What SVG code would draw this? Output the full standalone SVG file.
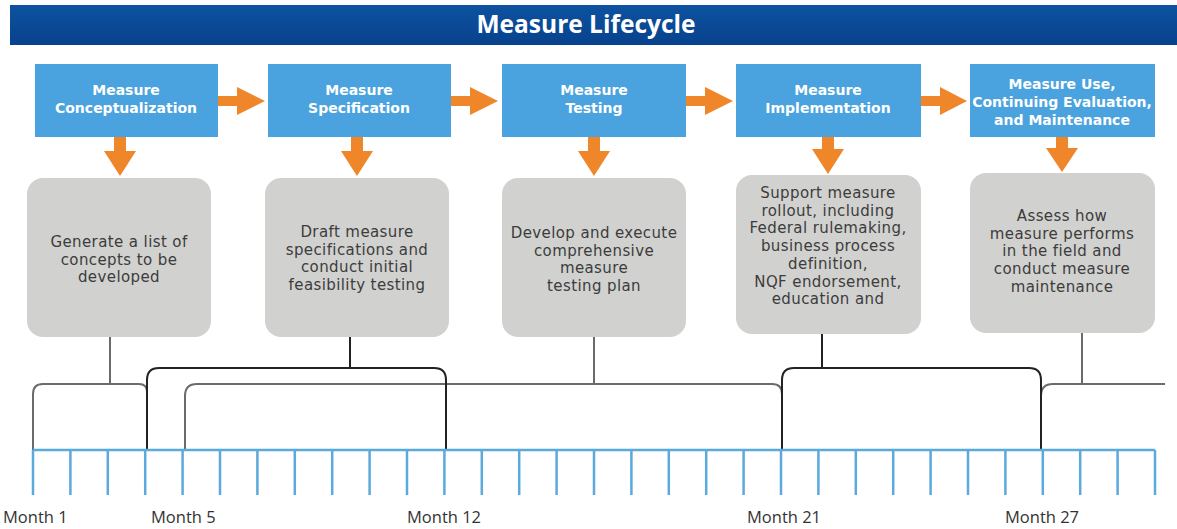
<svg xmlns="http://www.w3.org/2000/svg" width="1177" height="529" viewBox="0 0 1177 529">
<defs>
<linearGradient id="tg" x1="0" y1="0" x2="0" y2="1">
<stop offset="0" stop-color="#0d52a0"/>
<stop offset="1" stop-color="#08428c"/>
</linearGradient>
</defs>
<style>
.blue{fill:#4aa3de}
.grey{fill:#d1d1cf}
.bt{font-family:"DejaVu Sans",sans-serif;font-weight:bold;font-size:14px;fill:#ffffff;text-anchor:middle}
.gt{font-family:"DejaVu Sans",sans-serif;font-size:15px;letter-spacing:0.4px;fill:#3c3c3c;text-anchor:middle}
.mt{font-family:"Open Sans",Lato,sans-serif;font-size:16.5px;fill:#333333}
.arr{fill:#f0862a}
.gl{fill:none;stroke:#6b6b6b;stroke-width:2}
.bl{fill:none;stroke:#222222;stroke-width:2}
.tl{fill:none;stroke:#5aaadc;stroke-width:2.5}
</style>
<rect width="1177" height="529" fill="#ffffff"/>
<g id="title">
<rect x="10" y="5" width="1167" height="40" fill="url(#tg)"/>
<text x="586" y="33" style="font-family:'Open Sans',Lato,sans-serif;font-weight:bold;font-size:24.5px;fill:#ffffff;text-anchor:middle">Measure Lifecycle</text>
</g>
<g id="arrows">
<path class="arr" d="M218,96 H237 V87 L265,101 L237,115 V106 H218 Z"/>
<path class="arr" d="M451,96 H470 V87 L498,101 L470,115 V106 H451 Z"/>
<path class="arr" d="M686,96 H705 V87 L733,101 L705,115 V106 H686 Z"/>
<path class="arr" d="M921,96 H940 V87 L967,101 L940,115 V106 H921 Z"/>
<path class="arr" d="M114,137 V151 H104 L120,176 L136,151 H126 V137 Z"/>
<path class="arr" d="M351,137 V151 H341 L357,176 L373,151 H363 V137 Z"/>
<path class="arr" d="M588,137 V151 H578 L594,176 L610,151 H600 V137 Z"/>
<path class="arr" d="M822,137 V149 H812 L828,174 L844,149 H834 V137 Z"/>
<path class="arr" d="M1056,137 V148 H1046 L1062,172 L1078,148 H1068 V137 Z"/>
</g>
<g id="n1">
<rect class="blue" x="35" y="64" width="183" height="73"/>
<text class="bt" x="126" y="95">Measure</text>
<text class="bt" x="126" y="113">Conceptualization</text>
<rect class="grey" x="27" y="178" width="184" height="159" rx="16"/>
<text class="gt" x="119" y="247">Generate a list of</text>
<text class="gt" x="119" y="264.7">concepts to be</text>
<text class="gt" x="119" y="282.4">developed</text>
</g>
<g id="n2">
<rect class="blue" x="268" y="64" width="183" height="73"/>
<text class="bt" x="359" y="95">Measure</text>
<text class="bt" x="359" y="113">Specification</text>
<rect class="grey" x="265" y="178" width="184" height="159" rx="16"/>
<text class="gt" x="357" y="237">Draft measure</text>
<text class="gt" x="357" y="254.7">specifications and</text>
<text class="gt" x="357" y="272.4">conduct initial</text>
<text class="gt" x="357" y="290.1">feasibility testing</text>
</g>
<g id="n3">
<rect class="blue" x="502" y="64" width="184" height="73"/>
<text class="bt" x="594" y="95">Measure</text>
<text class="bt" x="594" y="113">Testing</text>
<rect class="grey" x="502" y="178" width="184" height="159" rx="16"/>
<text class="gt" x="594" y="238">Develop and execute</text>
<text class="gt" x="594" y="255.7">comprehensive</text>
<text class="gt" x="594" y="273.4">measure</text>
<text class="gt" x="594" y="291.1">testing plan</text>
</g>
<g id="n4">
<rect class="blue" x="736" y="64" width="185" height="73"/>
<text class="bt" x="828" y="95">Measure</text>
<text class="bt" x="828" y="113">Implementation</text>
<rect class="grey" x="736" y="175" width="185" height="159" rx="16"/>
<text class="gt" x="828" y="198">Support measure</text>
<text class="gt" x="828" y="215.7">rollout, including</text>
<text class="gt" x="828" y="233.4">Federal rulemaking,</text>
<text class="gt" x="828" y="251.1">business process</text>
<text class="gt" x="828" y="268.8">definition,</text>
<text class="gt" x="828" y="286.5">NQF endorsement,</text>
<text class="gt" x="828" y="304.2">education and</text>
</g>
<g id="n5">
<rect class="blue" x="970" y="64" width="185" height="73"/>
<text class="bt" x="1062" y="89">Measure Use,</text>
<text class="bt" x="1062" y="107">Continuing Evaluation,</text>
<text class="bt" x="1062" y="125">and Maintenance</text>
<rect class="grey" x="970" y="173" width="185" height="160" rx="16"/>
<text class="gt" x="1062" y="221">Assess how</text>
<text class="gt" x="1062" y="238.7">measure performs</text>
<text class="gt" x="1062" y="256.4">in the field and</text>
<text class="gt" x="1062" y="274.1">conduct measure</text>
<text class="gt" x="1062" y="291.8">maintenance</text>
</g>
<g id="connectors">
<path class="gl" d="M110,337 V384"/>
<path class="gl" d="M33,450 V394 Q33,384 43,384 H139 Q147,384 147,392"/>
<path class="gl" d="M594,337 V384"/>
<path class="gl" d="M185,450 V396 Q185,384 197,384 H772 Q782,384 782,394"/>
<path class="gl" d="M1082,333 V384"/>
<path class="gl" d="M1041,396 Q1041,384 1053,384 H1165"/>
<path class="bl" d="M350,337 V368"/>
<path class="bl" d="M147,450 V380 Q147,368 159,368 H434 Q446,368 446,380 V450"/>
<path class="bl" d="M822,334 V368"/>
<path class="bl" d="M782,450 V380 Q782,368 794,368 H1029 Q1041,368 1041,380 V450"/>
</g>
<g id="timeline">
<path class="tl" d="M33,450 H1155"/>
<path class="tl" d="M33,450 V495 M70.4,450 V495 M107.8,450 V495 M145.2,450 V495 M182.6,450 V495 M220,450 V495 M257.4,450 V495 M294.8,450 V495 M332.2,450 V495 M369.6,450 V495 M407,450 V495 M444.4,450 V495 M481.8,450 V495 M519.2,450 V495 M556.6,450 V495 M594,450 V495 M631.4,450 V495 M668.8,450 V495 M706.2,450 V495 M743.6,450 V495 M781,450 V495 M818.4,450 V495 M855.8,450 V495 M893.2,450 V495 M930.6,450 V495 M968,450 V495 M1005.4,450 V495 M1042.8,450 V495 M1080.2,450 V495 M1117.6,450 V495 M1155,450 V495"/>
<text class="mt" x="3" y="523">Month 1</text>
<text class="mt" x="151" y="523">Month 5</text>
<text class="mt" x="407" y="523">Month 12</text>
<text class="mt" x="747" y="523">Month 21</text>
<text class="mt" x="1005" y="523">Month 27</text>
</g>
</svg>
